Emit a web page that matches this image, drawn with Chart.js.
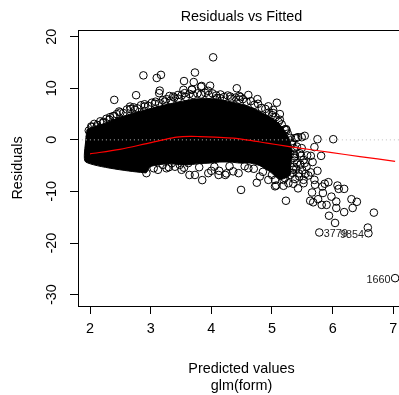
<!DOCTYPE html>
<html lang="en">
<head>
<meta charset="UTF-8">
<title>Residuals vs Fitted</title>
<script src="https://cdn.jsdelivr.net/npm/chart.js"></script>
<style>
  html, body { margin: 0; padding: 0; background: #fff; overflow: hidden; }
  #wrap { width: 399px; height: 395px; overflow: hidden; }
</style>
</head>
<body>
<div id="wrap"><canvas id="residChart" width="420" height="395"></canvas></div>
<script>
// axis ticks
const xTicks = [2, 3, 4, 5, 6, 7];
const yTicks = [-30, -20, -10, 0, 10, 20];

// solid part of the cloud: top edge left->right, bottom edge right->left
const upperEdge = [
  [1.95, 2.0], [2.08, 2.6], [2.25, 3.2], [2.41, 4.0], [2.58, 4.7], [2.74, 5.3],
  [2.91, 5.8], [3.07, 6.3], [3.24, 6.8], [3.40, 7.2], [3.57, 7.6], [3.73, 7.9],
  [3.90, 8.0], [4.06, 7.9], [4.23, 7.6], [4.39, 7.2], [4.56, 6.7], [4.72, 6.0],
  [4.88, 5.0], [5.05, 3.8], [5.17, 2.4], [5.25, 1.0], [5.30, -0.3], [5.33, -2.0],
  [5.31, -4.8], [5.30, -6.8]
];
const lowerEdge = [
  [5.13, -7.7], [4.97, -6.2], [4.80, -5.0], [4.64, -4.5], [4.47, -4.5],
  [4.31, -4.3], [4.14, -4.3], [3.98, -4.5], [3.81, -4.6], [3.65, -4.8],
  [3.48, -4.8], [3.32, -4.6], [3.15, -4.8], [2.99, -5.2], [2.92, -6.4],
  [1.93, -4.3], [1.93, 0], [1.95, 2.0]
];

// overlapping observations forming the ragged top of the cloud
const topBand = [
  [1.98, 1.8], [2.02, 2.6], [2.07, 3.1], [2.12, 2.9], [2.17, 3.6], [2.22, 3.5],
  [2.27, 4.1], [2.33, 4.4], [2.38, 4.6], [2.44, 5.0], [2.50, 5.3], [2.55, 5.2],
  [2.61, 5.9], [2.67, 6.0], [2.72, 6.3], [2.78, 6.1], [2.84, 6.7], [2.90, 6.9],
  [2.96, 6.6], [3.02, 7.2], [3.08, 7.4], [3.14, 7.1], [3.20, 7.7], [3.26, 7.9],
  [3.33, 7.6], [3.39, 8.2], [3.45, 8.0], [3.51, 8.6], [3.58, 8.3], [3.64, 8.9],
  [3.70, 8.7], [3.77, 9.0], [3.83, 8.8], [3.90, 9.1], [3.96, 8.7], [4.02, 9.0],
  [4.08, 8.6], [4.15, 8.8], [4.21, 8.3], [4.27, 8.6], [4.33, 8.0], [4.40, 8.2],
  [4.46, 7.8], [4.52, 7.9], [4.58, 7.4], [4.65, 7.5], [4.71, 6.8], [4.77, 7.0],
  [4.83, 6.2], [4.89, 6.0], [4.95, 5.3], [5.00, 4.8], [5.06, 4.4], [5.11, 3.5],
  [5.16, 3.0], [5.21, 2.0], [5.26, 1.2], [5.30, 0.4], [5.33, -0.6], [5.36, -1.6],
  [5.37, -2.8], [5.37, -4.0], [5.36, -5.2], [5.34, -6.4]
];

// single observations around the edge of the cloud and beyond it
const edgePoints = [
  [2.03, 1.3], [2.05, 1.6], [2.11, 2.6], [2.03, 2.5], [2.00, 0.6], [1.99, -0.8],
  [2.00, -2.0], [2.22, 3.3], [2.32, 3.9], [2.40, 4.6], [2.48, 5.5], [2.66, 6.45],
  [2.74, 5.8], [2.90, 6.45], [3.07, 7.0], [3.23, 7.4], [3.31, 8.5], [3.37, 8.4],
  [3.45, 8.7], [3.56, 9.05], [3.54, 9.7], [3.68, 9.7], [3.83, 10.3], [3.95, 9.5],
  [4.09, 8.1], [4.14, 8.1], [4.31, 8.4], [4.46, 8.5], [4.48, 8.3], [4.61, 8.7],
  [4.76, 7.9], [4.94, 6.5], [5.02, 5.8], [5.02, 5.2], [5.08, 7.2], [5.13, 5.0],
  [5.13, 3.9], [5.23, 2.1], [5.24, 1.9], [5.38, 0.33], [5.40, 0.4], [5.43, 0.52],
  [5.49, 0.52], [5.54, 0.78]
];
const upperOutliers = [
  [4.03, 16.0], [3.73, 13.05], [2.88, 12.5], [3.17, 12.6], [3.10, 12.0],
  [3.55, 11.4], [3.71, 11.2], [3.98, 10.5], [3.84, 10.45], [4.42, 10.0],
  [2.40, 7.75], [2.76, 8.66], [3.15, 9.55], [3.14, 9.05], [3.68, 9.8]
];
const lowerPoints = [
  [2.93, -6.45], [3.12, -5.8], [3.20, -4.85], [3.26, -5.5], [3.35, -4.5],
  [3.40, -5.2], [3.48, -4.85], [3.51, -5.8], [3.62, -4.5], [3.64, -6.8],
  [3.73, -6.8], [3.85, -7.8], [3.95, -6.45], [4.00, -6.0], [4.12, -6.8],
  [4.13, -6.0], [4.23, -6.8], [4.25, -6.5], [4.36, -6.1], [4.45, -6.45],
  [4.61, -5.5], [4.75, -8.3], [4.80, -7.1], [4.94, -7.75], [5.05, -7.75],
  [5.05, -9.0], [5.07, -8.85], [5.19, -8.9], [5.19, -7.75], [5.21, -7.4],
  [5.27, -8.4], [5.30, -6.8], [5.35, -5.8], [5.35, -8.5], [5.43, -9.4],
  [5.52, -8.4], [5.52, -7.75], [4.49, -9.7], [5.23, -11.8],
  [3.05, -5.5], [3.30, -5.3], [3.55, -5.4], [3.80, -5.3], [4.05, -5.2],
  [4.30, -5.1], [4.55, -5.1], [4.70, -5.6], [4.85, -6.2], [5.00, -6.8]
];
const rightPoints = [
  [5.75, 0.13], [6.01, 0.13], [5.41, -1.3], [5.46, -2.6], [5.49, -1.6],
  [5.52, -3.9], [5.54, -4.5], [5.57, -5.2], [5.41, -4.5], [5.38, -3.2],
  [5.30, -2.6], [5.67, -4.3], [5.70, -1.4], [5.64, -3.1], [5.81, -3.1],
  [5.75, -6.0], [5.64, -6.3], [5.70, -7.75], [5.71, -8.7], [5.87, -8.5],
  [5.93, -8.2], [5.83, -9.05], [6.08, -8.85], [6.10, -9.5], [6.19, -9.5],
  [5.66, -10.2], [5.84, -10.3], [5.63, -11.8], [5.68, -12.1], [5.76, -11.5],
  [5.98, -11.0], [6.06, -11.95], [5.82, -12.6], [5.90, -12.6], [6.31, -11.5],
  [6.40, -12.0], [6.33, -13.2], [6.19, -14.0], [6.06, -13.2], [5.94, -14.7],
  [6.04, -16.1], [6.68, -14.1], [6.58, -17.0],
  [5.33, -0.8], [5.36, -3.5], [5.40, -5.6], [5.44, -6.5], [5.47, -4.8],
  [5.50, -5.9], [5.45, -7.1], [5.38, -7.6], [5.55, -6.6], [5.58, -3.0],
  [5.60, -6.9], [5.48, -3.1]
];

// labelled observations
const idLabels = ['3779', '9854', '1660'];
const idX = [5.78, 6.59, 7.03];
const idY = [-17.95, -18.1, -26.8];
const idSide = ['right', 'left', 'left'];

// smoother through the residuals
const smoothX = [2.0, 2.49, 2.91, 3.24, 3.43, 3.65, 3.81, 4.06, 4.36, 4.64, 4.92, 5.21, 5.46, 5.96, 6.45, 7.03];
const smoothY = [-2.71, -1.84, -0.78, 0.1, 0.52, 0.68, 0.64, 0.52, 0.33, -0.1, -0.64, -1.16, -1.61, -2.42, -3.24, -4.15];

const FONT = '"Liberation Sans", Arial, Helvetica, sans-serif';
const toXY = p => ({ x: p[0], y: p[1] });

const rFrame = {
  id: 'rFrame',
  afterDatasetsDraw(chart) {
    const { ctx, chartArea: a, scales } = chart;
    ctx.save();
    ctx.strokeStyle = '#000';
    ctx.lineWidth = 1;
    ctx.strokeRect(Math.round(a.left) + 0.5, Math.round(a.top) + 0.5,
      Math.round(a.right - a.left), Math.round(a.bottom - a.top));
    ctx.font = '10.8px ' + FONT;
    ctx.fillStyle = '#222';
    ctx.textBaseline = 'middle';
    idLabels.forEach((lab, i) => {
      const px = scales.x.getPixelForValue(idX[i]);
      const py = scales.y.getPixelForValue(idY[i]) + 2;
      if (idSide[i] === 'right') {
        ctx.textAlign = 'left';
        ctx.fillText(lab, px + 4.5, py);
      } else {
        ctx.textAlign = 'right';
        ctx.fillText(lab, px - 4.5, py);
      }
    });
    ctx.restore();
  }
};

const circle = {
  showLine: false,
  pointRadius: 3.8,
  pointBorderWidth: 1,
  pointBorderColor: '#000',
  pointBackgroundColor: 'rgba(0,0,0,0)',
  order: 2
};

new Chart(document.getElementById('residChart'), {
  type: 'scatter',
  data: {
    datasets: [
      {
        type: 'line',
        data: smoothX.map((x, i) => ({ x, y: smoothY[i] })),
        borderColor: '#ff0000',
        borderWidth: 1.2,
        pointRadius: 0,
        tension: 0.3,
        fill: false,
        order: 0
      },
      {
        type: 'line',
        data: [{ x: 1.8, y: 0 }, { x: 7.2, y: 0 }],
        borderColor: '#bebebe',
        borderWidth: 1,
        borderDash: [1, 3],
        pointRadius: 0,
        fill: false,
        order: 1
      },
      Object.assign({ data: topBand.map(toXY) }, circle),
      Object.assign({ data: edgePoints.map(toXY) }, circle),
      Object.assign({ data: upperOutliers.map(toXY) }, circle),
      Object.assign({ data: lowerPoints.map(toXY) }, circle),
      Object.assign({ data: rightPoints.map(toXY) }, circle),
      Object.assign({ data: idX.map((x, i) => ({ x, y: idY[i] })) }, circle),
      {
        type: 'line',
        data: upperEdge.concat(lowerEdge).map(toXY),
        borderColor: '#000',
        borderWidth: 1,
        backgroundColor: '#000',
        pointRadius: 0,
        tension: 0.2,
        fill: 'shape',
        order: 3
      }
    ]
  },
  options: {
    responsive: false,
    animation: false,
    layout: { padding: { left: 0, right: 15, top: 0, bottom: 0 } },
    plugins: {
      legend: { display: false },
      tooltip: { enabled: false },
      title: {
        display: true,
        text: 'Residuals vs Fitted',
        fullSize: false,
        color: '#000',
        font: { family: FONT, size: 14.4, weight: 'normal' },
        padding: { top: 8.4, bottom: 4.3 }
      }
    },
    scales: {
      x: {
        type: 'linear',
        min: 1.802,
        max: 7.193,
        afterBuildTicks: s => { s.ticks = xTicks.map(v => ({ value: v })); },
        afterFit: s => { s.height = 89; },
        border: { display: false },
        grid: { drawOnChartArea: false, drawTicks: true, tickLength: 8, color: '#000' },
        ticks: {
          autoSkip: false, maxRotation: 0, padding: 6.4, color: '#000',
          font: { family: FONT, size: 14.4 }
        },
        title: {
          display: true,
          text: ['Predicted values', 'glm(form)'],
          color: '#000',
          font: { family: FONT, size: 14.4, lineHeight: 1.2 },
          padding: { top: 22.7, bottom: 0 }
        }
      },
      y: {
        type: 'linear',
        min: -32.2,
        max: 21.3,
        afterBuildTicks: s => { s.ticks = yTicks.map(v => ({ value: v })); },
        afterFit: s => { s.width = 78; },
        border: { display: false },
        grid: { drawOnChartArea: false, drawTicks: true, tickLength: 8, color: '#000' },
        ticks: {
          autoSkip: false, minRotation: 90, maxRotation: 90, crossAlign: 'center',
          padding: 7.1, color: '#000',
          font: { family: FONT, size: 14.4 }
        },
        title: {
          display: true,
          text: 'Residuals',
          color: '#000',
          font: { family: FONT, size: 14.4, lineHeight: 1.2 },
          padding: { top: 8.9, bottom: 0 }
        }
      }
    }
  },
  plugins: [rFrame]
});
</script>
</body>
</html>
